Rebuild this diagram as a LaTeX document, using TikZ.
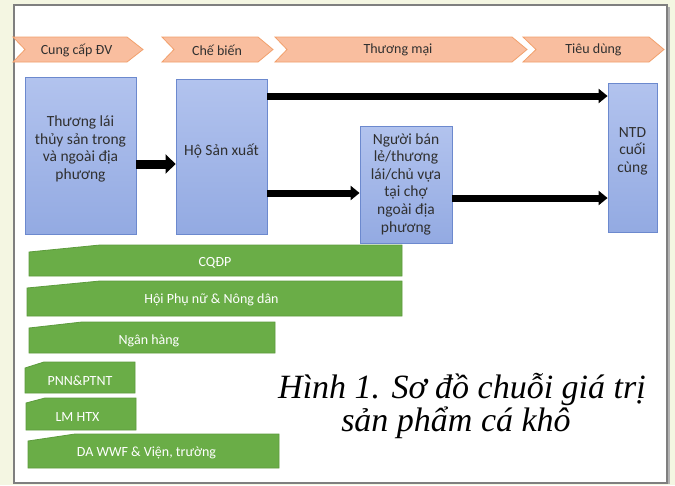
\documentclass[tikz,border=0pt]{standalone}
\usepackage{fontspec}
\setmainfont{Liberation Serif}
\newfontfamily\calfont{Carlito}
\usetikzlibrary{arrows.meta}
\definecolor{bgcream}{HTML}{F4F6E2}
\definecolor{framegray}{HTML}{7F7F7F}
\definecolor{chevfill}{HTML}{F9BE9F}
\definecolor{chevline}{HTML}{F2A06C}
\definecolor{bluetop}{HTML}{B2C3EE}
\definecolor{bluebot}{HTML}{93AAE2}
\definecolor{blueline}{HTML}{6C89CE}
\definecolor{grfill}{HTML}{6AAD47}
\definecolor{grline}{HTML}{5C9B3C}
\definecolor{txtdark}{HTML}{303030}
\tikzset{
  chev/.style={fill=chevfill, draw=chevline, line width=0.8pt},
  chevtxt/.style={font=\calfont\fontsize{14}{16}\selectfont, text=txtdark, inner sep=0pt},
  bluebox/.style={top color=bluetop, bottom color=bluebot, draw=blueline, line width=0.8pt, inner sep=0pt},
  boxtxt/.style={font=\calfont\fontsize{15.5}{17.6}\selectfont, text=txtdark, align=center, inner sep=0pt},
  grbar/.style={fill=grfill, draw=grline, line width=0.8pt},
  grtxt/.style={font=\calfont\fontsize{14}{16}\selectfont, text=white, inner sep=0pt},
  bigarrow/.style={line width=9pt, -{Triangle[width=19pt,length=10pt]}},
  thinarrow/.style={line width=7pt, -{Triangle[width=14pt,length=9pt]}},
  captxt/.style={font=\itshape\fontsize{34}{36}\selectfont, inner sep=0pt}
}
\begin{document}
\begin{tikzpicture}[x=1pt,y=-1pt]
\useasboundingbox (0,0) rectangle (675,485);
\fill[bgcream] (0,0) rectangle (675,485);
\fill[white] (14,5) rectangle (667,483);
\draw[framegray!60, line width=1.2pt] (669,7) -- (669,484);
\draw[framegray, line width=1.6pt] (14,5) rectangle (667,483);

% chevrons
\draw[chev] (13,37) -- (127,37) -- (143,49.5) -- (127,62) -- (13,62) -- (25,49.5) -- cycle;
\draw[chev] (162,37) -- (258,37) -- (273,49.5) -- (258,62) -- (162,62) -- (174,49.5) -- cycle;
\draw[chev] (275,37) -- (512,37) -- (527,49.5) -- (512,62) -- (275,62) -- (287,49.5) -- cycle;
\draw[chev] (523,37) -- (649,37) -- (664,49.5) -- (649,62) -- (523,62) -- (536,49.5) -- cycle;
\node[chevtxt] (c1) at (76.5,50) {Cung cấp ĐV};
\node[chevtxt] (c2) at (217,50) {Chế biến};
\node[chevtxt] (c3) at (398,50) {Thương mại};
\node[chevtxt] (c4) at (593.5,50) {Tiêu dùng};

% blue boxes
\node[bluebox, minimum width=111pt, minimum height=157pt] (b1) at (80.5,155.5) {};
\node[bluebox, minimum width=91pt, minimum height=155pt] (b2) at (221.5,156.5) {};
\node[bluebox, minimum width=92pt, minimum height=117pt] (b3) at (406,184.5) {};
\node[bluebox, minimum width=49pt, minimum height=149pt] (b4) at (632.5,157.5) {};
\node[boxtxt] (t1) at (80.5,149) {Thương lái\\thủy sản trong\\và ngoài địa\\phương};
\node[boxtxt] (t2) at (221.5,151) {Hộ Sản xuất};
\node[boxtxt] (t3) at (406,184) {Người bán\\lẻ/thương\\lái/chủ vựa\\tại chợ\\ngoài địa\\phương};
\node[boxtxt] (t4) at (632.5,151) {NTD\\cuối\\cùng};

% arrows
\coordinate (a1s) at ([yshift=-8.5pt]b1.east);
\draw[bigarrow] (a1s) -- (a1s -| b2.west);
\coordinate (a2s) at ([yshift=60.5pt]b2.east);
\draw[thinarrow] (a2s) -- (a2s -| b4.west);
\coordinate (a3s) at ([yshift=-36.5pt]b2.east);
\draw[thinarrow] (a3s) -- (a3s -| b3.west);
\coordinate (a4s) at ([yshift=-13.5pt]b3.east);
\draw[thinarrow] (a4s) -- (a4s -| b4.west);

% green bars
\draw[grbar] (29,252) -- (100,245) -- (402,245) -- (402,276) -- (29,276) -- cycle;
\draw[grbar] (27,288) -- (100,281) -- (402,281) -- (402,316) -- (27,316) -- cycle;
\draw[grbar] (29,328) -- (82,322) -- (275,322) -- (275,353) -- (29,353) -- cycle;
\draw[grbar] (25,368) -- (44,362) -- (135,362) -- (135,393) -- (25,393) -- cycle;
\draw[grbar] (26,403) -- (45,398) -- (136,398) -- (136,430) -- (26,430) -- cycle;
\draw[grbar] (28,441) -- (75,434) -- (279,434) -- (279,468) -- (28,468) -- cycle;
\node[grtxt] (g1) at (215,263) {CQĐP};
\node[grtxt] (g2) at (211.5,300) {Hội Phụ nữ \& Nông dân};
\node[grtxt] (g3) at (149,341) {Ngân hàng};
\node[grtxt] (g4) at (80,381) {PNN\&PTNT};
\node[grtxt] (g5) at (77.5,417) {LM HTX};
\node[grtxt] (g6) at (146.5,453) {DA WWF \& Viện, trường};

% caption
\node[captxt] (cap1) at (462,389) {Hình 1. Sơ đồ chuỗi giá trị};
\node[captxt] (cap2) at (456,423) {sản phẩm cá khô};
\end{tikzpicture}
\end{document}
